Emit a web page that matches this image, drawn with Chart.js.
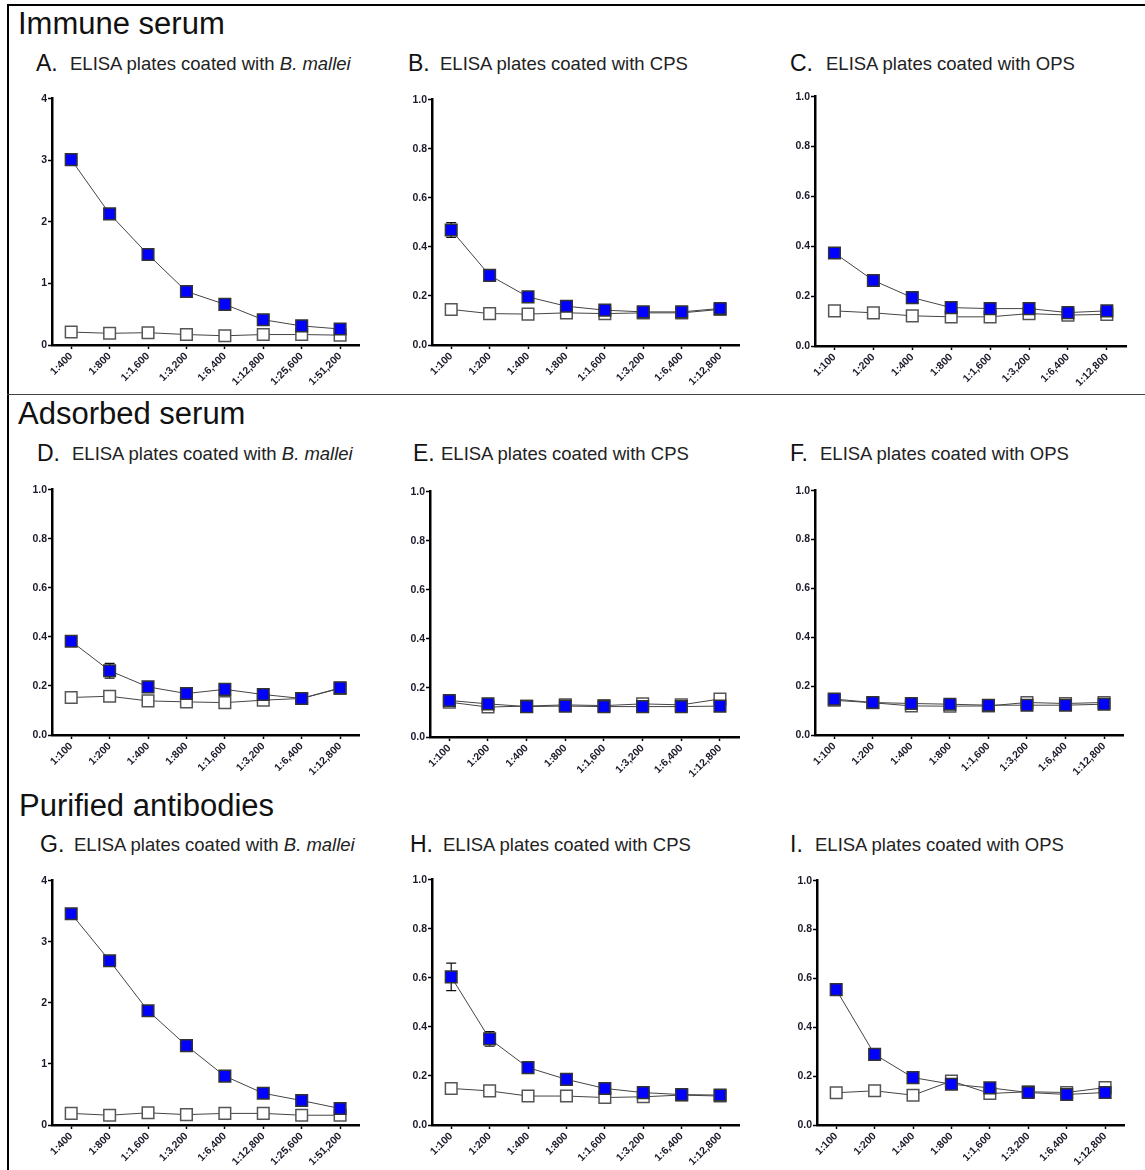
<!DOCTYPE html>
<html>
<head>
<meta charset="utf-8">
<script src="https://cdn.jsdelivr.net/npm/chart.js@4.4.1/dist/chart.umd.min.js"></script>
<style>
  body { margin: 0; background: #fff; font-family: "Liberation Sans", Arial, sans-serif; }
  #page { position: relative; width: 1145px; height: 1170px; overflow: hidden; }
  .section { position: absolute; font-size: 31px; line-height: 1; color: #111; white-space: nowrap; }
  .letter { position: absolute; font-size: 23px; line-height: 1; color: #111; }
  .caption { position: absolute; font-size: 18.5px; line-height: 1; color: #222; white-space: nowrap; }
  .panel { position: absolute; }
  .rule { position: absolute; background: #000; }
</style>
</head>
<body>
<div id="page">
  <div class="rule" style="left:7px;top:4px;width:1138px;height:2px;"></div>
  <div class="rule" style="left:7px;top:4px;width:2px;height:1166px;"></div>
  <div class="rule" style="left:7px;top:394px;width:1138px;height:1px;background:#444;"></div>

  <div class="section" style="left:18px;top:8px;">Immune serum</div>
  <div class="section" style="left:18px;top:398px;">Adsorbed serum</div>
  <div class="section" style="left:19px;top:790px;">Purified antibodies</div>
</div>

<script>
// x categories (serum dilutions)
const titersBm = ['1:400', '1:800', '1:1,600', '1:3,200', '1:6,400', '1:12,800', '1:25,600', '1:51,200'];
const titersPs = ['1:100', '1:200', '1:400', '1:800', '1:1,600', '1:3,200', '1:6,400', '1:12,800'];

// y tick values
const odTicksBm = [0, 1, 2, 3, 4];
const odTicksPs = [0, 0.2, 0.4, 0.6, 0.8, 1.0];

// OD values: Pos = filled blue squares, Neg = open squares
const immuneBmPos = [3.01, 2.13, 1.47, 0.87, 0.66, 0.41, 0.31, 0.26];
const immuneBmNeg = [0.21, 0.19, 0.20, 0.17, 0.15, 0.17, 0.17, 0.16];
const immuneCpsPos = [0.469, 0.284, 0.196, 0.158, 0.142, 0.135, 0.135, 0.149];
const immuneCpsNeg = [0.145, 0.128, 0.126, 0.131, 0.128, 0.131, 0.131, 0.145];
const immuneCpsPosErr = [0.03, 0, 0, 0, 0, 0, 0, 0];
const immuneOpsPos = [0.373, 0.263, 0.194, 0.154, 0.150, 0.150, 0.134, 0.141];
const immuneOpsNeg = [0.141, 0.133, 0.121, 0.117, 0.117, 0.130, 0.124, 0.127];

const adsorbedBmPos = [0.382, 0.262, 0.196, 0.169, 0.186, 0.165, 0.149, 0.192];
const adsorbedBmNeg = [0.153, 0.158, 0.139, 0.135, 0.132, 0.142, 0.149, 0.190];
const adsorbedBmPosErr = [0, 0.03, 0, 0, 0.02, 0, 0, 0];
const adsorbedCpsPos = [0.149, 0.135, 0.124, 0.126, 0.124, 0.124, 0.124, 0.126];
const adsorbedCpsNeg = [0.142, 0.122, 0.126, 0.131, 0.128, 0.135, 0.131, 0.155];
const adsorbedOpsPos = [0.147, 0.133, 0.129, 0.126, 0.122, 0.122, 0.122, 0.126];
const adsorbedOpsNeg = [0.142, 0.132, 0.119, 0.118, 0.119, 0.133, 0.129, 0.133];

const purifiedBmPos = [3.46, 2.69, 1.87, 1.30, 0.80, 0.52, 0.40, 0.27];
const purifiedBmNeg = [0.19, 0.16, 0.20, 0.17, 0.19, 0.19, 0.16, 0.16];
const purifiedCpsPos = [0.604, 0.351, 0.234, 0.186, 0.149, 0.132, 0.124, 0.122];
const purifiedCpsNeg = [0.149, 0.139, 0.118, 0.118, 0.112, 0.115, 0.122, 0.118];
const purifiedCpsPosErr = [0.056, 0.03, 0, 0, 0, 0, 0, 0];
const purifiedOpsPos = [0.554, 0.289, 0.194, 0.167, 0.152, 0.133, 0.125, 0.133];
const purifiedOpsNeg = [0.132, 0.140, 0.122, 0.180, 0.129, 0.136, 0.133, 0.153];

const panels = [
    {letter: 'A.', coat: 'Bm', labels: titersBm, ticks: odTicksBm, pos: immuneBmPos, neg: immuneBmNeg, err: null},
    {letter: 'B.', coat: 'CPS', labels: titersPs, ticks: odTicksPs, pos: immuneCpsPos, neg: immuneCpsNeg, err: immuneCpsPosErr},
    {letter: 'C.', coat: 'OPS', labels: titersPs, ticks: odTicksPs, pos: immuneOpsPos, neg: immuneOpsNeg, err: null},
    {letter: 'D.', coat: 'Bm', labels: titersPs, ticks: odTicksPs, pos: adsorbedBmPos, neg: adsorbedBmNeg, err: adsorbedBmPosErr},
    {letter: 'E.', coat: 'CPS', labels: titersPs, ticks: odTicksPs, pos: adsorbedCpsPos, neg: adsorbedCpsNeg, err: null},
    {letter: 'F.', coat: 'OPS', labels: titersPs, ticks: odTicksPs, pos: adsorbedOpsPos, neg: adsorbedOpsNeg, err: null},
    {letter: 'G.', coat: 'Bm', labels: titersBm, ticks: odTicksBm, pos: purifiedBmPos, neg: purifiedBmNeg, err: null},
    {letter: 'H.', coat: 'CPS', labels: titersPs, ticks: odTicksPs, pos: purifiedCpsPos, neg: purifiedCpsNeg, err: purifiedCpsPosErr},
    {letter: 'I.', coat: 'OPS', labels: titersPs, ticks: odTicksPs, pos: purifiedOpsPos, neg: purifiedOpsNeg, err: null}
];

// page layout: axis x, top of y axis, zero line, end of x axis, title positions
const layout = [
    {axisX: 52, top: 97, zero: 345, end: 363, letterX: 36, textX: 70, base: 71},
    {axisX: 432, top: 98, zero: 345, end: 743, letterX: 408, textX: 440, base: 71},
    {axisX: 815, top: 95, zero: 346, end: 1130, letterX: 790, textX: 826, base: 71},
    {axisX: 52, top: 488, zero: 735, end: 363, letterX: 37, textX: 72, base: 461},
    {axisX: 430, top: 490, zero: 737, end: 743, letterX: 413, textX: 441, base: 461},
    {axisX: 815, top: 489, zero: 735, end: 1127, letterX: 790, textX: 820, base: 461},
    {axisX: 52, top: 879, zero: 1125, end: 363, letterX: 40, textX: 74, base: 852},
    {axisX: 432, top: 878, zero: 1125, end: 743, letterX: 410, textX: 443, base: 852},
    {axisX: 817, top: 879, zero: 1125, end: 1128, letterX: 790, textX: 815, base: 852}
];

const Y_AXIS_W = 32;
const X_AXIS_H = 50;
const PAD_TOP = 8;
const PAD_RIGHT = 6;

Chart.defaults.font.family = '"Liberation Sans", Arial, sans-serif';

// draws the SD bars behind the markers
const errorBars = {
    id: 'errorBars',
    beforeDatasetsDraw(chart) {
        const ctx = chart.ctx;
        const y = chart.scales.y;
        chart.data.datasets.forEach((ds, i) => {
            if (!ds.errors) return;
            const meta = chart.getDatasetMeta(i);
            ds.errors.forEach((e, j) => {
                if (!e) return;
                const px = meta.data[j].x;
                const top = y.getPixelForValue(ds.data[j] + e);
                const bot = y.getPixelForValue(ds.data[j] - e);
                ctx.save();
                ctx.strokeStyle = '#111';
                ctx.lineWidth = 1.2;
                ctx.beginPath();
                ctx.moveTo(px, top); ctx.lineTo(px, bot);
                ctx.moveTo(px - 5, top); ctx.lineTo(px + 5, top);
                ctx.moveTo(px - 5, bot); ctx.lineTo(px + 5, bot);
                ctx.stroke();
                ctx.restore();
            });
        });
    }
};

const page = document.getElementById('page');

function addText(cls, x, top, html) {
    const d = document.createElement('div');
    d.className = cls;
    d.style.left = x + 'px';
    d.style.top = top + 'px';
    d.innerHTML = html;
    page.appendChild(d);
}

function coatText(coat) {
    if (coat === 'Bm') return 'ELISA plates coated with <i>B. mallei</i>';
    return 'ELISA plates coated with ' + coat;
}

panels.forEach((p, idx) => {
    const g = layout[idx];
    addText('letter', g.letterX, g.base - 19.5, p.letter);
    addText('caption', g.textX, g.base - 15.7, coatText(p.coat));

    const w = (g.end - g.axisX) + Y_AXIS_W + PAD_RIGHT;
    const h = (g.zero - g.top) + PAD_TOP + X_AXIS_H;
    const holder = document.createElement('div');
    holder.className = 'panel';
    holder.style.left = (g.axisX - Y_AXIS_W) + 'px';
    holder.style.top = (g.top - PAD_TOP) + 'px';
    const canvas = document.createElement('canvas');
    canvas.width = w;
    canvas.height = h;
    holder.appendChild(canvas);
    page.appendChild(holder);

    const yMax = p.ticks[p.ticks.length - 1];
    const decimals = yMax > 1 ? 0 : 1;

    new Chart(canvas.getContext('2d'), {
        type: 'line',
        data: {
            labels: p.labels,
            datasets: [
                {
                    data: p.pos,
                    errors: p.err,
                    borderColor: '#444',
                    borderWidth: 1,
                    pointStyle: 'rect',
                    pointRadius: 8.2,
                    pointBackgroundColor: '#0000ff',
                    pointBorderColor: '#333',
                    pointBorderWidth: 1.5,
                    tension: 0
                },
                {
                    data: p.neg,
                    borderColor: '#444',
                    borderWidth: 1,
                    pointStyle: 'rect',
                    pointRadius: 8.2,
                    pointBackgroundColor: '#ffffff',
                    pointBorderColor: '#555',
                    pointBorderWidth: 1.5,
                    tension: 0
                }
            ]
        },
        options: {
            responsive: false,
            animation: false,
            layout: {padding: {top: PAD_TOP, right: PAD_RIGHT, left: 0, bottom: 0}},
            plugins: {
                legend: {display: false},
                tooltip: {enabled: false}
            },
            scales: {
                x: {
                    type: 'category',
                    offset: true,
                    grid: {drawOnChartArea: false, offset: false, tickLength: 4, color: '#000', tickWidth: 1.5},
                    border: {color: '#000', width: 2.5},
                    ticks: {
                        autoSkip: false,
                        minRotation: 45,
                        maxRotation: 45,
                        padding: 1,
                        color: '#1a1a2a',
                        font: {size: 10.5, weight: 'bold'}
                    },
                    afterFit: s => { s.height = X_AXIS_H; }
                },
                y: {
                    min: 0,
                    max: yMax,
                    grid: {drawOnChartArea: false, tickLength: 4, color: '#000', tickWidth: 1.5},
                    border: {color: '#000', width: 2.5},
                    afterBuildTicks: s => { s.ticks = p.ticks.map(v => ({value: v})); },
                    ticks: {
                        padding: 1,
                        color: '#1a1a2a',
                        font: {size: 10.5, weight: 'bold'},
                        callback: v => Number(v).toFixed(decimals)
                    },
                    afterFit: s => { s.width = Y_AXIS_W; }
                }
            }
        },
        plugins: [errorBars]
    });
});
</script>
</body>
</html>
